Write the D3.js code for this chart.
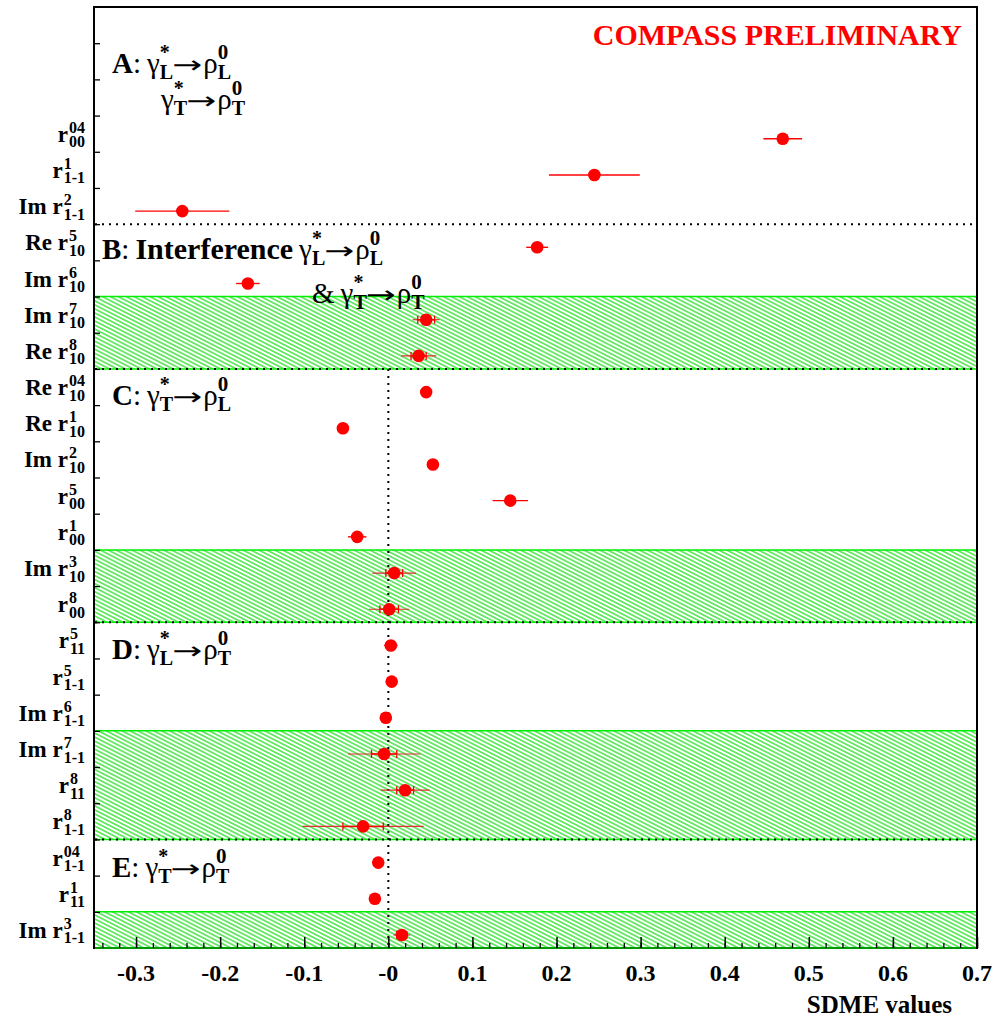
<!DOCTYPE html>
<html>
<head>
<meta charset="utf-8">
<script src="https://cdn.jsdelivr.net/npm/d3@7"></script>
<style>
  body { margin: 0; background: #fff; }
  svg text { font-family: "Liberation Serif", "Times New Roman", serif; }
</style>
</head>
<body>
<svg id="chart" width="999" height="1017"></svg>
<script>
// SDME rows, top to bottom
var labelMain = ["r", "r", "Im r", "Re r", "Im r", "Im r", "Re r", "Re r", "Re r", "Im r", "r", "r",
                 "Im r", "r", "r", "r", "Im r", "Im r", "r", "r", "r", "r", "Im r"];
var labelSup = ["04", "1", "2", "5", "6", "7", "8", "04", "1", "2", "5", "1",
                "3", "8", "5", "5", "6", "7", "8", "8", "04", "1", "3"];
var labelSub = ["00", "1-1", "1-1", "10", "10", "10", "10", "10", "10", "10", "00", "00",
                "10", "00", "11", "1-1", "1-1", "1-1", "11", "1-1", "1-1", "11", "1-1"];
var values = [0.469, 0.245, -0.245, 0.177, -0.167, 0.045, 0.036, 0.045, -0.054, 0.053, 0.145, -0.037,
              0.007, 0.001, 0.003, 0.004, -0.003, -0.005, 0.020, -0.030, -0.012, -0.016, 0.016];
var statErr = [0.023, 0.054, 0.056, 0.013, 0.014, 0.010, 0.009, 0.003, 0.003, 0.003, 0.021, 0.011,
               0.010, 0.011, 0.008, 0.004, 0.004, 0.015, 0.010, 0.024, 0.004, 0.003, 0.006];
// total error, only shown for the hatched rows
var totErr = [null, null, null, null, null, 0.016, 0.021, null, null, null, null, null,
              0.026, 0.024, null, null, null, 0.043, 0.029, 0.072, null, null, 0.010];

var xTicks = [-0.3, -0.2, -0.1, 0, 0.1, 0.2, 0.3, 0.4, 0.5, 0.6, 0.7];
var xTickLabels = ["-0.3", "-0.2", "-0.1", "-0", "0.1", "0.2", "0.3", "0.4", "0.5", "0.6", "0.7"];

var firstRow = 3;                 // three empty rows on top for the class A label
var sectionEnds = [6, 10, 17, 23];
var shadedBands = [[8, 10], [15, 17], [20, 23], [25, 26]];

var svg = d3.select("#chart");

var x = d3.scaleLinear().domain([-0.35, 0.7]).range([94, 977]);
var y = d3.scaleLinear().domain([0, 26]).range([7, 948]);

var defs = svg.append("defs");
var hatch = defs.append("pattern")
    .attr("id", "hatch")
    .attr("patternUnits", "userSpaceOnUse")
    .attr("width", 12)
    .attr("height", 3.6)
    .attr("patternTransform", "rotate(27)");
hatch.append("line")
    .attr("x1", 0).attr("x2", 12)
    .attr("y1", 1.8).attr("y2", 1.8)
    .attr("stroke", "#00d800")
    .attr("stroke-width", 1.1);

// hatched bands
svg.append("g").selectAll("rect")
    .data(shadedBands)
    .enter().append("rect")
    .attr("x", x(-0.35))
    .attr("y", function(d) { return y(d[0]); })
    .attr("width", x(0.7) - x(-0.35))
    .attr("height", function(d) { return y(d[1]) - y(d[0]); })
    .attr("fill", "url(#hatch)");

// frame
svg.append("rect")
    .attr("x", x(-0.35)).attr("y", y(0))
    .attr("width", x(0.7) - x(-0.35))
    .attr("height", y(26) - y(0))
    .attr("fill", "none")
    .attr("stroke", "#000")
    .attr("stroke-width", 2);

// band borders
var bandEdges = [];
shadedBands.forEach(function(b) { bandEdges.push(b[0], b[1]); });
svg.append("g").selectAll("line")
    .data(bandEdges)
    .enter().append("line")
    .attr("x1", x(-0.35) + 1).attr("x2", x(0.7) - 1)
    .attr("y1", function(d) { return y(d); })
    .attr("y2", function(d) { return y(d); })
    .attr("stroke", function(d) { return d === 26 ? "#009a00" : "#00ee00"; })
    .attr("stroke-width", function(d) { return d === 26 ? 2 : 1.5; });

// section separators and zero line
svg.append("g").selectAll("line")
    .data(sectionEnds)
    .enter().append("line")
    .attr("x1", x(-0.35) + 1).attr("x2", x(0.7))
    .attr("y1", function(d) { return y(d); })
    .attr("y2", function(d) { return y(d); })
    .attr("stroke", "#000")
    .attr("stroke-width", 2)
    .attr("stroke-dasharray", "2,5");

svg.append("line")
    .attr("x1", x(0)).attr("x2", x(0))
    .attr("y1", y(10)).attr("y2", y(26))
    .attr("stroke", "#000")
    .attr("stroke-width", 2)
    .attr("stroke-dasharray", "2,5");

// axes
svg.append("g")
    .attr("transform", "translate(0," + y(26) + ")")
    .call(d3.axisTop(x).tickValues(d3.range(-34, 71, 2).map(function(d) { return d / 100; }))
        .tickSize(5).tickFormat(""))
    .call(function(g) { g.select(".domain").remove(); })
    .selectAll("line").attr("stroke-width", 1.3);

svg.append("g")
    .attr("transform", "translate(0," + y(26) + ")")
    .call(d3.axisTop(x).tickValues(xTicks).tickSize(11).tickFormat(""))
    .call(function(g) { g.select(".domain").remove(); })
    .selectAll("line").attr("stroke-width", 1.5);

svg.append("g")
    .attr("transform", "translate(" + x(-0.35) + ",0)")
    .call(d3.axisRight(y).tickValues(d3.range(1, 26)).tickSize(6).tickFormat(""))
    .call(function(g) { g.select(".domain").remove(); })
    .selectAll("line").attr("stroke-width", 1.3);

svg.append("g").selectAll("text")
    .data(xTicks)
    .enter().append("text")
    .attr("x", function(d) { return x(d); })
    .attr("y", 981)
    .attr("text-anchor", "middle")
    .attr("font-size", 24)
    .attr("font-weight", "bold")
    .text(function(d, i) { return xTickLabels[i]; });

svg.append("text")
    .attr("x", 952).attr("y", 1013)
    .attr("text-anchor", "end")
    .attr("font-size", 25)
    .attr("font-weight", "bold")
    .text("SDME values");

svg.append("text")
    .attr("x", 962).attr("y", 45)
    .attr("text-anchor", "end")
    .attr("font-size", 30)
    .attr("font-weight", "bold")
    .attr("fill", "#ff0000")
    .text("COMPASS PRELIMINARY");

// text with stacked super/subscripts
function addText(grp, cx, p) {
    var t = grp.append("text")
        .attr("x", cx)
        .attr("y", p.dy || 0)
        .attr("font-size", p.size)
        .attr("font-weight", p.weight || "bold")
        .text(p.t);
    if (p.font) t.style("font-family", p.font);
    if (p.len) {
        t.attr("textLength", p.len).attr("lengthAdjust", "spacingAndGlyphs");
        return p.len;
    }
    return t.node().getComputedTextLength();
}

function rich(x0, y0, parts, anchor) {
    var grp = svg.append("g");
    var cx = 0;
    parts.forEach(function(p) {
        cx += p.gap || 0;
        if (p.stack) {
            cx += d3.max(p.stack.map(function(q) { return addText(grp, cx, q); }));
        } else {
            cx += addText(grp, cx, p);
        }
    });
    var left = anchor === "end" ? x0 - cx : x0;
    grp.attr("transform", "translate(" + left + "," + y0 + ")");
}

function reaction(gSub, rSub) {
    return [
        {t: "\u03b3", size: 29, weight: "normal", gap: 6},
        {stack: [{t: "*", size: 20, dy: -14}, {t: gSub, size: 20, dy: 6}]},
        {t: "\u2192", size: 24, weight: "normal", font: "DejaVu Sans", len: 30, gap: -1},
        {t: "\u03c1", size: 29, weight: "normal", gap: 1},
        {stack: [{t: "0", size: 21, dy: -14}, {t: rSub, size: 20, dy: 6}]}
    ];
}

function classLabel(letter) {
    return [{t: letter, size: 29}, {t: ":", size: 29, weight: "normal"}];
}

rich(112, 73, classLabel("A").concat(reaction("L", "L")));
rich(155, 109, reaction("T", "T"));
rich(102, 259, classLabel("B").concat([{t: "Interference", size: 30, gap: 6}], reaction("L", "L")));
rich(312, 303, [{t: "&", size: 29, weight: "normal"}].concat(reaction("T", "T")));
rich(112, 405, classLabel("C").concat(reaction("T", "L")));
rich(112, 659, classLabel("D").concat(reaction("L", "T")));
rich(112, 877, classLabel("E").concat(reaction("T", "T")));

// row labels
function rowY(i) { return y(firstRow + i + 0.64); }

labelMain.forEach(function(m, i) {
    rich(85, rowY(i) + 3, [
        {t: m, size: 23},
        {gap: 1, stack: [{t: labelSup[i], size: 16, dy: -9}, {t: labelSub[i], size: 16, dy: 5.5}]}
    ], "end");
});

// error bars
var bars = svg.append("g");
values.forEach(function(v, i) {
    var py = rowY(i);
    if (totErr[i] !== null) {
        bars.append("line")
            .attr("x1", x(v - totErr[i])).attr("x2", x(v + totErr[i]))
            .attr("y1", py).attr("y2", py)
            .attr("stroke", "#e03030").attr("stroke-width", 1.2);
        bars.append("line")
            .attr("x1", x(v - statErr[i])).attr("x2", x(v + statErr[i]))
            .attr("y1", py).attr("y2", py)
            .attr("stroke", "#ff0000").attr("stroke-width", 1.5);
        [v - statErr[i], v + statErr[i]].forEach(function(e) {
            bars.append("line")
                .attr("x1", x(e)).attr("x2", x(e))
                .attr("y1", py - 4).attr("y2", py + 4)
                .attr("stroke", "#ff0000").attr("stroke-width", 1.3);
        });
    } else {
        bars.append("line")
            .attr("x1", x(v - statErr[i])).attr("x2", x(v + statErr[i]))
            .attr("y1", py).attr("y2", py)
            .attr("stroke", "#ff0000").attr("stroke-width", 1.4);
    }
});

svg.append("g").selectAll("circle")
    .data(values)
    .enter().append("circle")
    .attr("cx", function(d) { return x(d); })
    .attr("cy", function(d, i) { return rowY(i); })
    .attr("r", 6.3)
    .attr("fill", "#ff0000");
</script>
</body>
</html>
